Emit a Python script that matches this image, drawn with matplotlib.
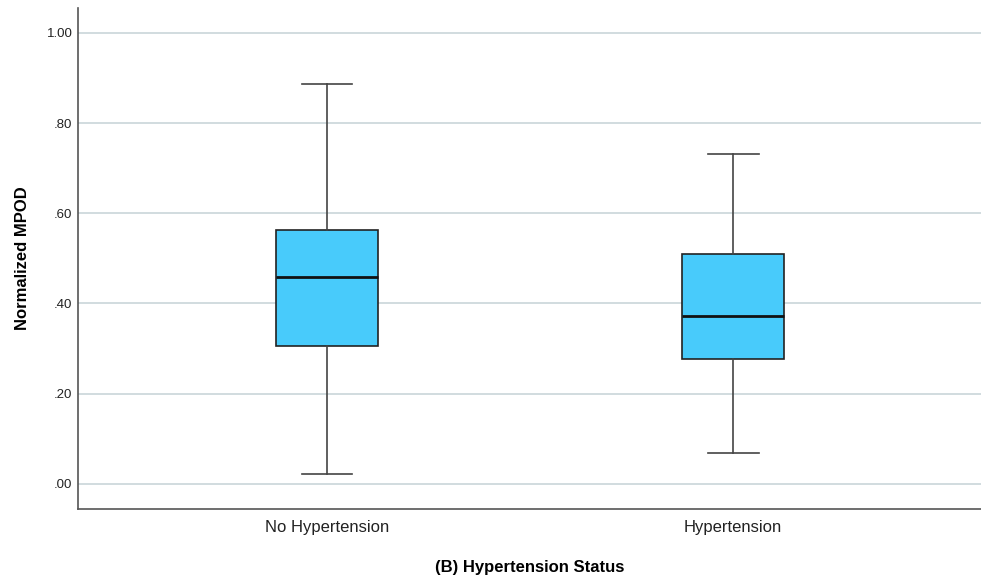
import matplotlib
matplotlib.use('Agg')
import matplotlib.pyplot as plt
from matplotlib.ticker import FuncFormatter

plt.rcParams['font.family'] = ['Liberation Sans', 'DejaVu Sans']

groups = ['No Hypertension', 'Hypertension']
whislo = [0.021, 0.068]
q1 = [0.306, 0.277]
med = [0.459, 0.372]
q3 = [0.563, 0.509]
whishi = [0.886, 0.732]

stats = []
for i, g in enumerate(groups):
    stats.append(dict(label=g, whislo=whislo[i], q1=q1[i], med=med[i],
                      q3=q3[i], whishi=whishi[i], fliers=[]))

fig = plt.figure(figsize=(9.81, 5.81), dpi=100)
ax = fig.add_axes([78/981, 1-508.7/581, (981-78)/981, (508.7-8)/581])

ax.bxp(stats, positions=[1, 2], widths=0.25, patch_artist=True, showfliers=False,
       boxprops=dict(facecolor='#48cbfb', edgecolor='#222222', linewidth=1.2),
       medianprops=dict(color='#111111', linewidth=2),
       whiskerprops=dict(color='#444444', linewidth=1.2),
       capprops=dict(color='#444444', linewidth=1.2),
       capwidths=0.125)

ax.set_xlim(0.387, 2.61)
ax.set_ylim(-0.055, 1.055)
ax.set_yticks([0, 0.2, 0.4, 0.6, 0.8, 1.0])
ax.yaxis.set_major_formatter(FuncFormatter(lambda v, p: '1.00' if v >= 1 else ('%.2f' % v)[1:]))
ax.grid(axis='y', color='#c9d5d9', linewidth=1.2)
ax.set_axisbelow(True)
for s in ['top', 'right']:
    ax.spines[s].set_visible(False)
for s in ['left', 'bottom']:
    ax.spines[s].set_color('#555555')
    ax.spines[s].set_linewidth(1.2)
ax.tick_params(axis='y', length=0, pad=4, labelsize=9.5, colors='#222222')
ax.tick_params(axis='x', length=0, pad=8, labelsize=12, colors='#222222')

ax.set_ylabel('Normalized MPOD', fontsize=12, fontweight='bold', labelpad=12)
ax.set_xlabel('(B) Hypertension Status', fontsize=12, fontweight='bold', labelpad=18)

fig.savefig('out.png', dpi=100)
